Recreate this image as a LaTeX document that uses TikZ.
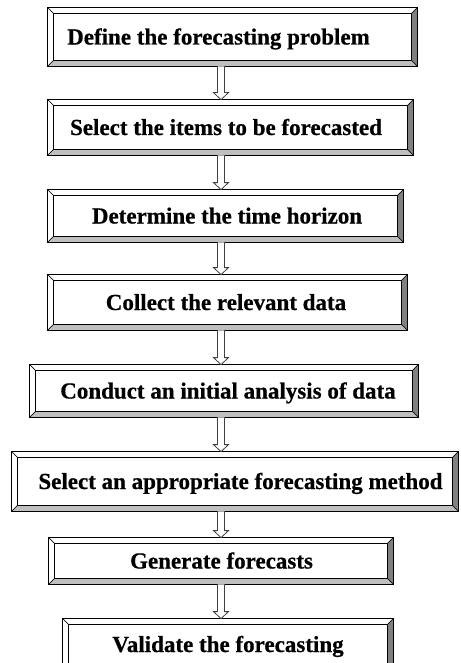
\documentclass[tikz,border=0pt]{standalone}
\usepackage{fontspec}
\setmainfont{Liberation Serif}[BoldFeatures={FakeBold=0.6}]
\usetikzlibrary{calc}
\tikzset{
  stepframe/.style={rectangle, draw=black, line width=0.8pt, inner sep=0pt, fill=white},
  bevlight/.style={fill=white, draw=black, line width=0.4pt},
  bevdark/.style={fill=black!50, draw=black, line width=0.4pt},
  bevmid/.style={fill=black!25, draw=black, line width=0.4pt},
  innerframe/.style={draw=black, line width=1.1pt},
  steptext/.style={anchor=base, inner sep=0pt, font=\fontsize{23}{27}\selectfont\bfseries},
  hollowarrow/.style={draw=black!75, line width=0.8pt, fill=white, line join=miter}
}
\newcommand\stepbox[7]{%
  \node[stepframe, minimum width={(#4-#2)*1pt}, minimum height={(#5-#3)*1pt}] (#1) at ({(#2+#4)/2},{(#3+#5)/2}) {};
  \path[bevlight] (#1.north west) -- (#1.north east) -- ++(-6,6) -- ($(#1.north west)+(6,6)$) -- cycle;
  \path[bevlight] (#1.north west) -- ++(6,6) -- ($(#1.south west)+(6,-6)$) -- (#1.south west) -- cycle;
  \path[bevdark] (#1.north east) -- (#1.south east) -- ++(-6,-6) -- ($(#1.north east)+(-6,6)$) -- cycle;
  \path[bevmid] (#1.south west) -- (#1.south east) -- ++(-6,-6) -- ($(#1.south west)+(6,-6)$) -- cycle;
  \draw[innerframe] ($(#1.north west)+(6,6)$) rectangle ($(#1.south east)+(-6,-6)$);
  \draw[line width=0.8pt] (#1.north west) rectangle (#1.south east);
  \node[steptext] (#1t) at (#6,{(#3+#5)/2+7.5}) {#7};
}
\newcommand\flowarrow[2]{%
  \path[hollowarrow] let \p1=(#1.south), \p2=(#2.north) in
    (217.5pt,\y1) -- (217.5pt,\y2+7pt) -- (213.5pt,\y2+7pt) -- (221pt,\y2)
    -- (228.5pt,\y2+7pt) -- (224.5pt,\y2+7pt) -- (224.5pt,\y1);
}
\begin{document}
\begin{tikzpicture}[x=1pt,y=-1pt]
  \useasboundingbox (0,0) rectangle (460,663);
  \clip (0,0) rectangle (460,663);
  \fill[white] (0,0) rectangle (460,663);
  \stepbox{b1}{48}{8}{417}{66}{218.5}{Define the forecasting problem}
  \stepbox{b2}{48}{100}{413}{155}{226}{Select the items to be forecasted}
  \stepbox{b3}{48}{190}{403}{242}{227}{Determine the time horizon}
  \stepbox{b4}{48}{275}{407}{330}{226}{Collect the relevant data}
  \stepbox{b5}{30}{365}{418}{417}{228}{Conduct an initial analysis of data}
  \stepbox{b6}{12}{452}{458}{511}{240.5}{Select an appropriate forecasting method}
  \stepbox{b7}{49}{538}{393}{584}{221.5}{Generate forecasts}
  \stepbox{b8}{63}{619}{393}{670}{228}{Validate the forecasting}
  \flowarrow{b1}{b2}
  \flowarrow{b2}{b3}
  \flowarrow{b3}{b4}
  \flowarrow{b4}{b5}
  \flowarrow{b5}{b6}
  \flowarrow{b6}{b7}
  \flowarrow{b7}{b8}
\end{tikzpicture}
\end{document}
